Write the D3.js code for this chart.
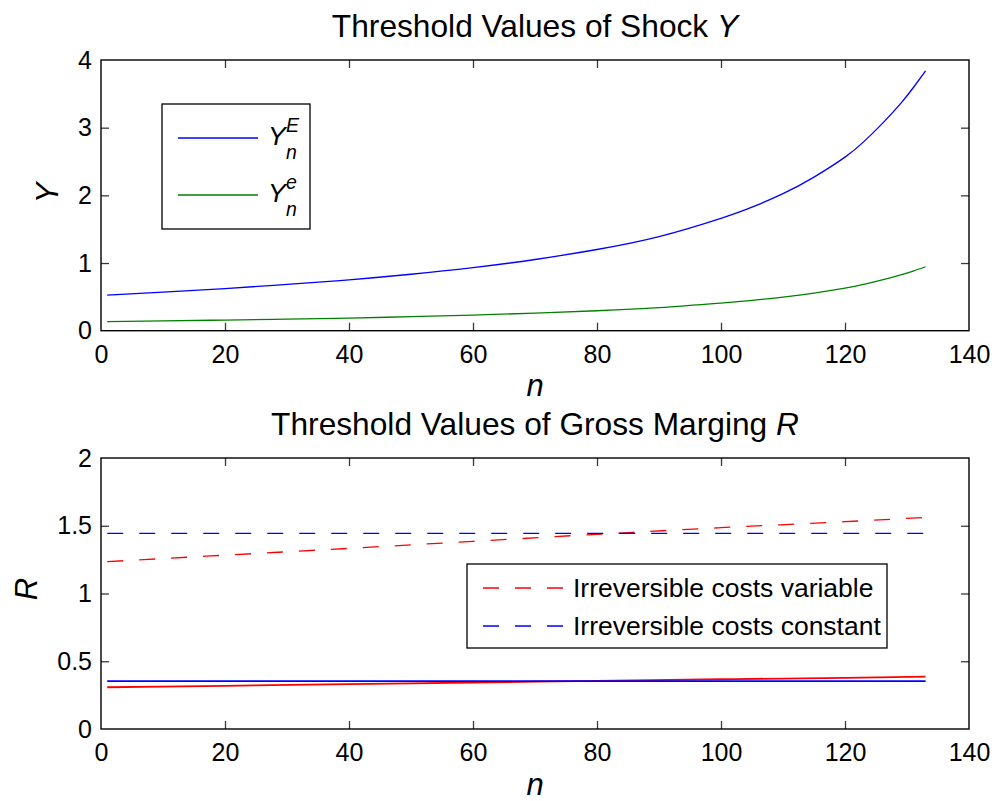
<!DOCTYPE html>
<html>
<head>
<meta charset="utf-8">
<script src="https://cdn.jsdelivr.net/npm/d3@7"></script>
<style>
  html, body { margin: 0; padding: 0; background: #fff; }
  svg { display: block; font-family: "Liberation Sans", Arial, Helvetica, sans-serif; }
</style>
</head>
<body>
<svg id="chart" width="998" height="801"></svg>
<script>
// ---------- data ----------
const xTicks = [0, 20, 40, 60, 80, 100, 120, 140];
const yTicksTop = [0, 1, 2, 3, 4];
const yTicksBottom = [0, 0.5, 1, 1.5, 2];

const nTop = [1, 10, 20, 30, 40, 50, 60, 70, 80, 90, 100, 105, 110, 115, 120, 123, 126, 129, 131, 133];
const yE   = [0.527, 0.570, 0.623, 0.684, 0.752, 0.834, 0.932, 1.052, 1.20, 1.39, 1.66, 1.825, 2.025, 2.27, 2.565, 2.79, 3.06, 3.36, 3.59, 3.84];
const ye   = [0.133, 0.145, 0.157, 0.171, 0.187, 0.207, 0.231, 0.26, 0.295, 0.34, 0.408, 0.447, 0.497, 0.556, 0.628, 0.683, 0.750, 0.826, 0.882, 0.945];
const topSup = ["E", "e"];

const nBottom = [1, 20, 40, 60, 80, 100, 120, 133];
const rVarHigh   = [1.235, 1.283, 1.333, 1.385, 1.437, 1.486, 1.530, 1.562];
const rConstHigh = [1.444, 1.444, 1.444, 1.444, 1.444, 1.444, 1.444, 1.444];
const rVarLow    = [0.308, 0.319, 0.331, 0.343, 0.355, 0.367, 0.378, 0.386];
const rConstLow  = [0.354, 0.354, 0.354, 0.354, 0.354, 0.354, 0.354, 0.354];
const bottomLegend = ["Irreversible costs variable", "Irreversible costs constant"];

// ---------- layout ----------
const svg = d3.select("#chart");
const X0 = 101, X1 = 969;
const panels = [
  { top: 60, bottom: 330.7, yDomain: [0, 4], yTicks: yTicksTop, title: ["Threshold Values of Shock ", "Y"], titleY: 37, ylab: "Y", ylabX: 58, ylabY: 193, xlabY: 396 },
  { top: 458, bottom: 729, yDomain: [0, 2], yTicks: yTicksBottom, title: ["Threshold Values of Gross Marging ", "R"], titleY: 435, ylab: "R", ylabX: 37, ylabY: 589, xlabY: 795 }
];
const x = d3.scaleLinear().domain([0, 140]).range([X0, X1]);

panels.forEach(p => {
  p.y = d3.scaleLinear().domain(p.yDomain).range([p.bottom, p.top]);
  const g = svg.append("g");
  const ax = g.append("g").attr("transform", `translate(0,${p.bottom})`)
    .call(d3.axisBottom(x).tickValues(xTicks).tickSize(-8).tickPadding(14.5).tickFormat(d3.format("d")));
  const axT = g.append("g").attr("transform", `translate(0,${p.top})`)
    .call(d3.axisTop(x).tickValues(xTicks).tickSize(-8).tickFormat(""));
  const ay = g.append("g").attr("transform", `translate(${X0},0)`)
    .call(d3.axisLeft(p.y).tickValues(p.yTicks).tickSize(-8).tickPadding(9).tickFormat(d => String(d)));
  const ayR = g.append("g").attr("transform", `translate(${X1},0)`)
    .call(d3.axisRight(p.y).tickValues(p.yTicks).tickSize(-8).tickFormat(""));
  [ax, axT, ay, ayR].forEach(a => {
    a.select(".domain").remove();
    a.selectAll(".tick line").attr("stroke", "#3a3a3a").attr("stroke-width", 1.3);
    a.selectAll(".tick text").attr("fill", "#000").style("font-size", "25px")
      .style("font-family", "'Liberation Sans', Arial, sans-serif");
  });
  ax.selectAll(".tick").filter(d => d === 0 || d === 140).select("line").remove();
  axT.selectAll(".tick").filter(d => d === 0 || d === 140).select("line").remove();
  ay.selectAll(".tick").filter(d => d === p.yDomain[0] || d === p.yDomain[1]).select("line").remove();
  ayR.selectAll(".tick").filter(d => d === p.yDomain[0] || d === p.yDomain[1]).select("line").remove();
  p.g = g;

  const t = svg.append("text").attr("x", (X0 + X1) / 2).attr("y", p.titleY)
    .attr("text-anchor", "middle").style("font-size", "31.7px");
  t.append("tspan").text(p.title[0]);
  t.append("tspan").style("font-style", "italic").text(p.title[1]);
  svg.append("text").attr("x", (X0 + X1) / 2).attr("y", p.xlabY).attr("text-anchor", "middle")
    .style("font-size", "31px").style("font-style", "italic").text("n");
  svg.append("text").attr("transform", `translate(${p.ylabX},${p.ylabY}) rotate(-90)`)
    .attr("text-anchor", "middle").style("font-size", "31px").style("font-style", "italic").text(p.ylab);
});

function drawLine(p, xs, ys, color, width, dash, curve) {
  const line = d3.line().x(d => x(d[0])).y(d => p.y(d[1])).curve(curve || d3.curveLinear);
  const path = p.g.append("path").datum(xs.map((v, i) => [v, ys[i]]))
    .attr("d", line).attr("fill", "none").attr("stroke", color).attr("stroke-width", width);
  if (dash) path.attr("stroke-dasharray", dash);
}

const P0 = panels[0], P1 = panels[1];
drawLine(P0, nTop, yE, "#0000ff", 1.3, null, d3.curveNatural);
drawLine(P0, nTop, ye, "#008000", 1.3, null, d3.curveNatural);

drawLine(P1, nBottom, rVarHigh, "#ff0000", 1.3, "16,16", d3.curveMonotoneX);
drawLine(P1, nBottom, rConstHigh, "#0000ff", 1.3, "16,16");
drawLine(P1, nBottom, rVarLow, "#ff0000", 1.8, null, d3.curveMonotoneX);
drawLine(P1, nBottom, rConstLow, "#0000ff", 1.8);

panels.forEach(p => {
  svg.append("rect").attr("x", X0).attr("y", p.top).attr("width", X1 - X0).attr("height", p.bottom - p.top)
    .attr("fill", "none").attr("stroke", "#000").attr("stroke-width", 1.4);
});

// ---------- top legend ----------
const lgT = svg.append("g");
lgT.append("rect").attr("x", 162).attr("y", 104).attr("width", 148).attr("height", 125)
  .attr("fill", "#fff").attr("stroke", "#000").attr("stroke-width", 1.3);
const topColors = ["#0000ff", "#008000"];
const topRows = [138, 195];
topSup.forEach((s, i) => {
  const yy = topRows[i];
  lgT.append("line").attr("x1", 178).attr("x2", 258).attr("y1", yy).attr("y2", yy)
    .attr("stroke", topColors[i]).attr("stroke-width", 1.3);
  lgT.append("text").attr("x", 268).attr("y", yy + 7).style("font-style", "italic")
    .style("font-size", "26.5px").text("Y");
  lgT.append("text").attr("x", 286).attr("y", yy - 6).style("font-style", "italic")
    .style("font-size", "19.5px").text(s);
  lgT.append("text").attr("x", 286).attr("y", yy + 21).style("font-style", "italic")
    .style("font-size", "19.5px").text("n");
});

// ---------- bottom legend ----------
const lgB = svg.append("g");
lgB.append("rect").attr("x", 467).attr("y", 564).attr("width", 420).attr("height", 84)
  .attr("fill", "#fff").attr("stroke", "#000").attr("stroke-width", 1.3);
const botColors = ["#ff0000", "#0000ff"];
const botRows = [588, 626];
bottomLegend.forEach((lab, i) => {
  const yy = botRows[i];
  lgB.append("line").attr("x1", 483).attr("x2", 563).attr("y1", yy).attr("y2", yy)
    .attr("stroke", botColors[i]).attr("stroke-width", 1.3).attr("stroke-dasharray", "16,16");
  lgB.append("text").attr("x", 573).attr("y", yy + 9).style("font-size", "26.5px").text(lab);
});
</script>
</body>
</html>
